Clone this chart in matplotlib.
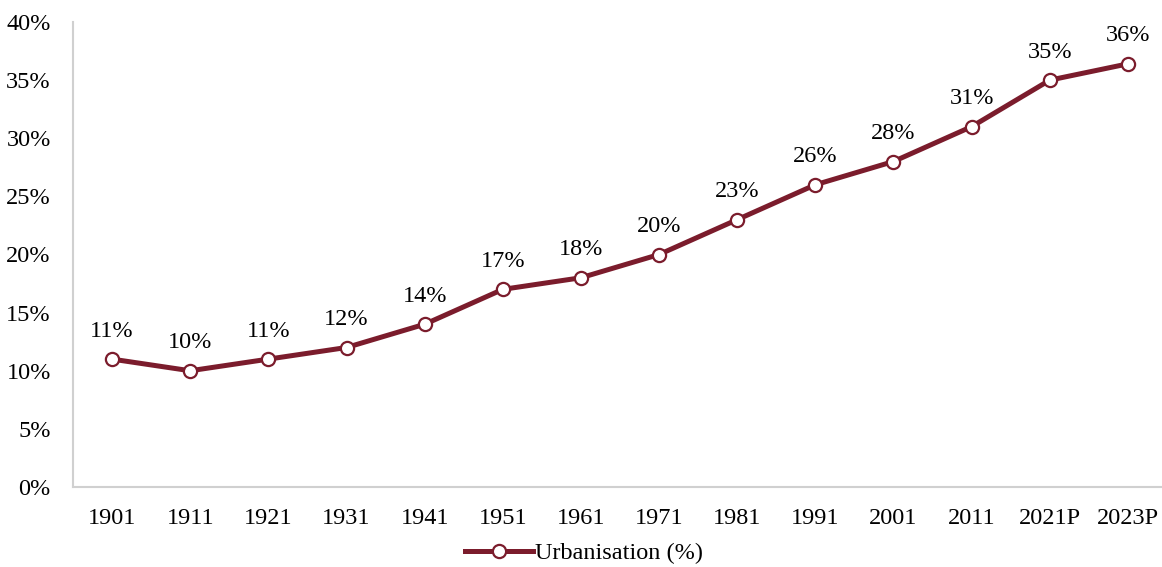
import matplotlib.pyplot as plt
from matplotlib.ticker import FuncFormatter

plt.rcParams['font.family'] = ['Liberation Serif', 'DejaVu Serif']

years = ['1901', '1911', '1921', '1931', '1941', '1951', '1961', '1971',
         '1981', '1991', '2001', '2011', '2021P', '2023P']
urban = [11, 10, 11, 12, 14, 17, 18, 20, 23, 26, 28, 31, 35, 36.4]

col = '#7B1C2C'
fs = 17.5

fig = plt.figure(figsize=(11.62, 5.67), dpi=100)
ax = fig.add_axes([73 / 1162, 80 / 567, 1094 / 1162, 465 / 567])

x = list(range(len(years)))
ax.plot(x, urban, color=col, lw=3.6, marker='o', ms=9.5, mfc='white',
        mec=col, mew=1.6, label='Urbanisation (%)', clip_on=False, zorder=3)

for xi, v in zip(x, urban):
    ax.annotate('%d%%' % round(v), (xi, v), xytext=(0, 12.5), textcoords='offset points',
                ha='center', va='bottom', fontsize=fs)

ax.set_xlim(-0.5, 13.5)
ax.set_ylim(0, 40)
ax.set_xticks(x)
ax.set_xticklabels(years)
ax.set_yticks(range(0, 41, 5))
ax.yaxis.set_major_formatter(FuncFormatter(lambda v, p: '%d%%' % v))
ax.tick_params(axis='both', length=0, labelsize=fs, colors='black')
ax.tick_params(axis='x', pad=15)
ax.tick_params(axis='y', pad=16)

for s in ['top', 'right']:
    ax.spines[s].set_visible(False)
for s in ['left', 'bottom']:
    ax.spines[s].set_color('#d0d0d0')
    ax.spines[s].set_linewidth(1.5)

ax.legend(loc='center', bbox_to_anchor=(0.467, -0.142), frameon=False,
          fontsize=fs, handlelength=2.8, handletextpad=0.05)

fig.savefig('out.png', dpi=100)
